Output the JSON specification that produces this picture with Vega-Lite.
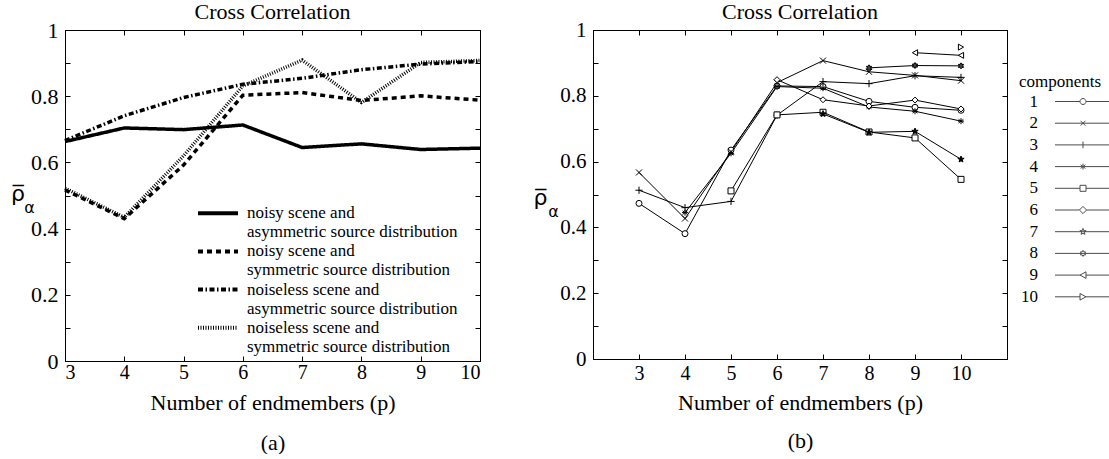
{
  "$schema": "https://vega.github.io/schema/vega-lite/v6.json",
  "padding": {"left": 10, "top": 0, "right": 0, "bottom": 0},
  "background": "white",
  "spacing": 44,
  "config": {
    "font": "Liberation Serif, Times New Roman, Times, DejaVu Serif, serif",
    "view": {"stroke": "black", "strokeWidth": 1},
    "axis": {"domainColor": "black", "tickColor": "black", "labelColor": "black", "titleColor": "black", "grid": false, "labelFont": "Liberation Serif, Times New Roman, Times, DejaVu Serif, serif", "titleFont": "Liberation Serif, Times New Roman, Times, DejaVu Serif, serif", "titleFontWeight": "normal", "tickSize": -5, "domainWidth": 1},
    "title": {"font": "Liberation Serif, Times New Roman, Times, DejaVu Serif, serif", "fontSize": 22, "fontWeight": "normal", "color": "black", "offset": -5},
    "legend": {"labelFont": "Liberation Serif, Times New Roman, Times, DejaVu Serif, serif", "titleFont": "Liberation Serif, Times New Roman, Times, DejaVu Serif, serif", "labelColor": "black", "titleColor": "black", "padding": 0}
  },
  "hconcat": [
    {
      "title": {"text": "Cross Correlation"},
      "width": 415,
      "height": 331,
      "data": {"values": [
        {"series": "noisy scene and asymmetric source distribution", "p": 3, "rho": 0.663},
        {"series": "noisy scene and asymmetric source distribution", "p": 4, "rho": 0.704},
        {"series": "noisy scene and asymmetric source distribution", "p": 5, "rho": 0.699},
        {"series": "noisy scene and asymmetric source distribution", "p": 6, "rho": 0.713},
        {"series": "noisy scene and asymmetric source distribution", "p": 7, "rho": 0.645},
        {"series": "noisy scene and asymmetric source distribution", "p": 8, "rho": 0.656},
        {"series": "noisy scene and asymmetric source distribution", "p": 9, "rho": 0.639},
        {"series": "noisy scene and asymmetric source distribution", "p": 10, "rho": 0.643},
        {"series": "noisy scene and symmetric source distribution", "p": 3, "rho": 0.517},
        {"series": "noisy scene and symmetric source distribution", "p": 4, "rho": 0.43},
        {"series": "noisy scene and symmetric source distribution", "p": 5, "rho": 0.592},
        {"series": "noisy scene and symmetric source distribution", "p": 6, "rho": 0.803},
        {"series": "noisy scene and symmetric source distribution", "p": 7, "rho": 0.811},
        {"series": "noisy scene and symmetric source distribution", "p": 8, "rho": 0.787},
        {"series": "noisy scene and symmetric source distribution", "p": 9, "rho": 0.801},
        {"series": "noisy scene and symmetric source distribution", "p": 10, "rho": 0.788},
        {"series": "noiseless scene and asymmetric source distribution", "p": 3, "rho": 0.666},
        {"series": "noiseless scene and asymmetric source distribution", "p": 4, "rho": 0.741},
        {"series": "noiseless scene and asymmetric source distribution", "p": 5, "rho": 0.796},
        {"series": "noiseless scene and asymmetric source distribution", "p": 6, "rho": 0.836},
        {"series": "noiseless scene and asymmetric source distribution", "p": 7, "rho": 0.854},
        {"series": "noiseless scene and asymmetric source distribution", "p": 8, "rho": 0.88},
        {"series": "noiseless scene and asymmetric source distribution", "p": 9, "rho": 0.897},
        {"series": "noiseless scene and asymmetric source distribution", "p": 10, "rho": 0.905},
        {"series": "noiseless scene and symmetric source distribution", "p": 3, "rho": 0.522},
        {"series": "noiseless scene and symmetric source distribution", "p": 4, "rho": 0.434},
        {"series": "noiseless scene and symmetric source distribution", "p": 5, "rho": 0.62},
        {"series": "noiseless scene and symmetric source distribution", "p": 6, "rho": 0.831},
        {"series": "noiseless scene and symmetric source distribution", "p": 7, "rho": 0.909},
        {"series": "noiseless scene and symmetric source distribution", "p": 8, "rho": 0.781},
        {"series": "noiseless scene and symmetric source distribution", "p": 9, "rho": 0.902},
        {"series": "noiseless scene and symmetric source distribution", "p": 10, "rho": 0.908}
      ]},
      "layer": [
        {
          "mark": {"type": "line", "color": "black", "strokeWidth": 3.5},
          "encoding": {
            "x": {"field": "p", "type": "quantitative", "scale": {"domain": [3, 10], "nice": false, "zero": false},
              "axis": {"values": [3, 4, 5, 6, 7, 8, 9, 10], "labelFontSize": 20, "labelPadding": 6, "titleFontSize": 22, "titlePadding": 10, "titleLineHeight": 40,
                "title": ["Number of endmembers (p)", "\u00a0\u00a0\u00a0\u00a0\u00a0\u00a0\u00a0\u00a0\u00a0\u00a0\u00a0\u00a0(a)"]}},
            "y": {"field": "rho", "type": "quantitative", "scale": {"domain": [0, 1], "nice": false},
              "axis": {"values": [0, 0.1, 0.2, 0.3, 0.4, 0.5, 0.6, 0.7, 0.8, 0.9, 1], "labelExpr": "(round(datum.value*10) % 2 == 0) ? format(datum.value, '.1~f') : ''", "labelFontSize": 22, "labelPadding": 12,
                "title": "ρ̅", "titleFont": "DejaVu Sans", "titleAngle": 0, "titleFontSize": 22, "titleX": -47.5, "titleY": 163, "titleAlign": "center", "titleBaseline": "middle"}},
            "strokeDash": {"field": "series", "type": "nominal",
              "scale": {"domain": ["noisy scene and asymmetric source distribution", "noisy scene and symmetric source distribution", "noiseless scene and asymmetric source distribution", "noiseless scene and symmetric source distribution"],
                "range": [[1, 0], [5, 4], [5, 2.5, 1.5, 2.5], [1, 1.5]]},
              "legend": {"orient": "none", "legendX": 133, "legendY": 174.7, "title": null, "symbolType": "M-6.667,0H6.667", "symbolSize": 36, "symbolOffset": 11.5, "symbolStrokeWidth": 4, "symbolStrokeColor": "black",
                "labelFontSize": 17, "labelLineHeight": 19, "labelOffset": 20.5, "labelLimit": 400, "rowPadding": 1.2, "labelBaseline": "middle",
                "labelExpr": "[slice(datum.label, 0, indexof(datum.label, ' and ') + 4), slice(datum.label, indexof(datum.label, ' and ') + 5)]"}}
          }
        },
        {
          "mark": {"type": "point", "opacity": 0},
          "encoding": {
            "x": {"field": "p", "type": "quantitative", "axis": {"orient": "top", "values": [3, 4, 5, 6, 7, 8, 9, 10], "labels": false, "minExtent": 0, "maxExtent": 0,
              "title": "α", "titleFont": "DejaVu Sans", "titleFontSize": 16, "titleAngle": 0, "titleX": -36, "titleY": 177, "titleAlign": "center", "titleBaseline": "middle"}},
            "y": {"field": "rho", "type": "quantitative", "axis": {"orient": "right", "values": [0, 0.1, 0.2, 0.3, 0.4, 0.5, 0.6, 0.7, 0.8, 0.9, 1], "labels": false, "title": null, "minExtent": 0, "maxExtent": 0}}
          }
        }
      ],
      "resolve": {"axis": {"x": "independent", "y": "independent"}}
    },
    {
      "title": {"text": "Cross Correlation"},
      "width": 414,
      "height": 329,
      "data": {"values": [
        {"component": 1, "p": 3, "rho": 0.473}, {"component": 1, "p": 4, "rho": 0.381}, {"component": 1, "p": 5, "rho": 0.635}, {"component": 1, "p": 6, "rho": 0.83}, {"component": 1, "p": 7, "rho": 0.828}, {"component": 1, "p": 8, "rho": 0.783}, {"component": 1, "p": 9, "rho": 0.765}, {"component": 1, "p": 10, "rho": 0.756},
        {"component": 2, "p": 3, "rho": 0.567}, {"component": 2, "p": 4, "rho": 0.427}, {"component": 2, "p": 5, "rho": 0.63}, {"component": 2, "p": 6, "rho": 0.84}, {"component": 2, "p": 7, "rho": 0.907}, {"component": 2, "p": 8, "rho": 0.873}, {"component": 2, "p": 9, "rho": 0.862}, {"component": 2, "p": 10, "rho": 0.846},
        {"component": 3, "p": 3, "rho": 0.513}, {"component": 3, "p": 4, "rho": 0.46}, {"component": 3, "p": 5, "rho": 0.479}, {"component": 3, "p": 6, "rho": 0.741}, {"component": 3, "p": 7, "rho": 0.843}, {"component": 3, "p": 8, "rho": 0.837}, {"component": 3, "p": 9, "rho": 0.861}, {"component": 3, "p": 10, "rho": 0.856},
        {"component": 4, "p": 4, "rho": 0.445}, {"component": 4, "p": 5, "rho": 0.625}, {"component": 4, "p": 6, "rho": 0.828}, {"component": 4, "p": 7, "rho": 0.823}, {"component": 4, "p": 8, "rho": 0.766}, {"component": 4, "p": 9, "rho": 0.753}, {"component": 4, "p": 10, "rho": 0.723},
        {"component": 5, "p": 5, "rho": 0.511}, {"component": 5, "p": 6, "rho": 0.742}, {"component": 5, "p": 7, "rho": 0.75}, {"component": 5, "p": 8, "rho": 0.69}, {"component": 5, "p": 9, "rho": 0.672}, {"component": 5, "p": 10, "rho": 0.546},
        {"component": 6, "p": 6, "rho": 0.849}, {"component": 6, "p": 7, "rho": 0.788}, {"component": 6, "p": 8, "rho": 0.769}, {"component": 6, "p": 9, "rho": 0.787}, {"component": 6, "p": 10, "rho": 0.76},
        {"component": 7, "p": 7, "rho": 0.745}, {"component": 7, "p": 8, "rho": 0.689}, {"component": 7, "p": 9, "rho": 0.692}, {"component": 7, "p": 10, "rho": 0.607},
        {"component": 8, "p": 8, "rho": 0.885}, {"component": 8, "p": 9, "rho": 0.892}, {"component": 8, "p": 10, "rho": 0.891},
        {"component": 9, "p": 9, "rho": 0.931}, {"component": 9, "p": 10, "rho": 0.923},
        {"component": 10, "p": 10, "rho": 0.948}
      ]},
      "layer": [
        {
          "mark": {"type": "line", "color": "black", "strokeWidth": 1},
          "encoding": {
            "x": {"field": "p", "type": "quantitative", "scale": {"domain": [2, 11], "nice": false, "zero": false},
              "axis": {"values": [3, 4, 5, 6, 7, 8, 9, 10], "labelFontSize": 20, "labelPadding": 9, "titleFontSize": 22, "titlePadding": 9, "titleLineHeight": 38,
                "title": ["Number of endmembers (p)", "\u00a0\u00a0\u00a0\u00a0\u00a0\u00a0\u00a0\u00a0\u00a0\u00a0\u00a0\u00a0\u00a0\u00a0\u00a0(b)"]}},
            "y": {"field": "rho", "type": "quantitative", "scale": {"domain": [0, 1], "nice": false},
              "axis": {"values": [0, 0.1, 0.2, 0.3, 0.4, 0.5, 0.6, 0.7, 0.8, 0.9, 1], "labelExpr": "(round(datum.value*10) % 2 == 0) ? format(datum.value, '.1~f') : ''", "labelFontSize": 21, "labelPadding": 12,
                "title": "ρ̅", "titleFont": "DejaVu Sans", "titleAngle": 0, "titleFontSize": 22, "titleX": -53, "titleY": 167, "titleAlign": "center", "titleBaseline": "middle"}},
            "detail": {"field": "component", "type": "nominal"}
          }
        },
        {
          "mark": {"type": "point", "filled": true, "stroke": "black", "strokeWidth": 1, "size": 36, "opacity": 1},
          "encoding": {
            "x": {"field": "p", "type": "quantitative", "axis": null},
            "y": {"field": "rho", "type": "quantitative", "axis": null},
            "shape": {"field": "component", "type": "nominal",
              "scale": {"domain": [1, 2, 3, 4, 5, 6, 7, 8, 9, 10],
                "range": ["circle", "M-1,-1L1,1M-1,1L1,-1", "M-1.2,0H1.2M0,-1.2V1.2", "M-1,0H1M0,-1V1M-0.8,-0.6L0.8,0.6M-0.8,0.6L0.8,-0.6", "square", "diamond",
                  "M0,-1.1L0.26,-0.36L1.05,-0.34L0.42,0.14L0.65,0.89L0,0.5L-0.65,0.89L-0.42,0.14L-1.05,-0.34L-0.26,-0.36Z",
                  "M0,-1L0.289,-0.5L0.866,-0.5L0.577,0L0.866,0.5L0.289,0.5L0,1L-0.289,0.5L-0.866,0.5L-0.577,0L-0.866,-0.5L-0.289,-0.5Z",
                  "triangle-left", "triangle-right"]},
              "legend": null},
            "fill": {"field": "component", "type": "nominal",
              "scale": {"domain": [1, 2, 3, 4, 5, 6, 7, 8, 9, 10], "range": ["white", "white", "white", "white", "white", "white", "black", "#444444", "white", "white"]},
              "legend": null}
          }
        },
        {
          "transform": [{"filter": "datum.p > 100"}],
          "mark": {"type": "point", "filled": false, "color": "black", "strokeWidth": 1},
          "encoding": {
            "x": {"field": "p", "type": "quantitative", "axis": {"orient": "top", "values": [3, 4, 5, 6, 7, 8, 9, 10], "labels": false, "minExtent": 0, "maxExtent": 0,
              "title": "α", "titleFont": "DejaVu Sans", "titleFontSize": 16, "titleAngle": 0, "titleX": -40, "titleY": 181, "titleAlign": "center", "titleBaseline": "middle"}},
            "y": {"field": "rho", "type": "quantitative", "axis": {"orient": "right", "values": [0, 0.1, 0.2, 0.3, 0.4, 0.5, 0.6, 0.7, 0.8, 0.9, 1], "labels": false, "title": null, "minExtent": 0, "maxExtent": 0}},
            "shape": {"field": "component", "type": "nominal",
              "scale": {"domain": [1, 2, 3, 4, 5, 6, 7, 8, 9, 10],
                "range": [
                  "M-9.33,0H-1M1,0H9.33M-1,0A1,1 0 1,0 1,0A1,1 0 1,0 -1,0",
                  "M-9.33,0H9.33M-0.8,-0.8L0.8,0.8M-0.8,0.8L0.8,-0.8",
                  "M-9.33,0H9.33M0,-1.1V1.1",
                  "M-9.33,0H9.33M0,-1V1M-0.8,-0.6L0.8,0.6M-0.8,0.6L0.8,-0.6",
                  "M-9.33,0H-1M1,0H9.33M-1,-1H1V1H-1Z",
                  "M-9.33,0H-1.2M1.2,0H9.33M-1.2,0L0,-1.2L1.2,0L0,1.2Z",
                  "M-9.33,0H9.33M0,-1.1L0.26,-0.36L1.05,-0.34L0.42,0.14L0.65,0.89L0,0.5L-0.65,0.89L-0.42,0.14L-1.05,-0.34L-0.26,-0.36Z",
                  "M-9.33,0H9.33M0,-1L0.289,-0.5L0.866,-0.5L0.577,0L0.866,0.5L0.289,0.5L0,1L-0.289,0.5L-0.866,0.5L-0.577,0L-0.866,-0.5L-0.289,-0.5Z",
                  "M-9.33,0H-1M1,0H9.33M-1,0L1,-1.1L1,1.1Z",
                  "M-9.33,0H-1M1,0H9.33M1,0L-1,-1.1L-1,1.1Z"
                ]},
              "legend": {"orient": "none", "legendX": 426, "legendY": 44, "title": "components", "titleFontSize": 17, "titleFontWeight": "normal", "titlePadding": 2,
                "symbolSize": 36, "symbolOffset": 55.5, "symbolStrokeWidth": 1, "symbolStrokeColor": "black", "symbolFillColor": "transparent",
                "labelAlign": "right", "labelOffset": -53.5, "labelFontSize": 17, "rowPadding": 3.7}}
          }
        }
      ],
      "resolve": {"scale": {"shape": "independent"}, "axis": {"x": "independent", "y": "independent"}}
    }
  ]
}
